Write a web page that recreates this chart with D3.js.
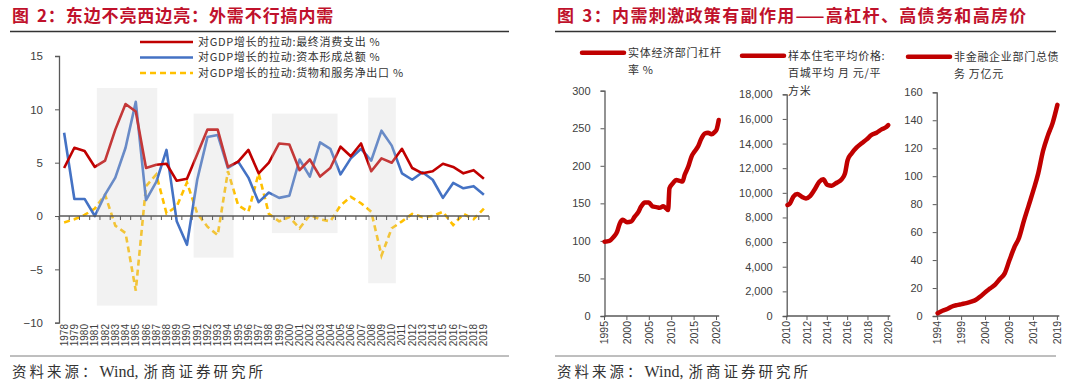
<!DOCTYPE html>
<html>
<head>
<meta charset="utf-8">
<script src="https://cdn.jsdelivr.net/npm/d3@7"></script>
<style>
    body { margin: 0; background: #fff; }
    svg text { font-family: Arial, "Liberation Sans", sans-serif; }
    .cjk { font-family: "Noto Sans CJK SC", sans-serif; }
</style>
</head>
<body>
<svg id="chart" width="1080" height="384"></svg>
<script>
// ---- left chart data: contributions to GDP growth (pp) ----
const years = [1978, 1979, 1980, 1981, 1982, 1983, 1984, 1985, 1986, 1987, 1988, 1989, 1990,
    1991, 1992, 1993, 1994, 1995, 1996, 1997, 1998, 1999, 2000, 2001, 2002, 2003, 2004, 2005,
    2006, 2007, 2008, 2009, 2010, 2011, 2012, 2013, 2014, 2015, 2016, 2017, 2018, 2019];
const consumption = [4.5, 6.4, 6.1, 4.6, 5.2, 8.1, 10.5, 9.8, 4.5, 4.8, 4.9, 3.3, 3.5,
    5.8, 8.1, 8.1, 4.6, 5.1, 6.2, 4.0, 5.0, 6.8, 6.7, 4.3, 5.3, 3.7, 4.5, 6.5,
    5.6, 6.8, 4.2, 5.4, 5.0, 6.3, 4.5, 4.0, 4.2, 4.9, 4.6, 4.0, 4.3, 3.5];
const capital = [7.8, 1.6, 1.6, 0.0, 2.0, 3.6, 6.4, 10.7, 1.5, 3.2, 6.2, -0.5, -2.7,
    3.4, 7.4, 7.6, 4.5, 5.1, 3.6, 1.3, 2.2, 1.7, 1.9, 5.3, 3.7, 6.9, 6.3, 3.9,
    5.4, 6.3, 5.2, 8.0, 6.6, 4.0, 3.4, 4.1, 3.4, 1.7, 3.1, 2.6, 2.8, 2.0];
const netExports = [-0.6, -0.3, 0.1, 0.7, 2.0, -0.9, -1.6, -7.0, 2.8, 3.9, 0.25, 0.9, 3.15,
    0.25, -1.0, -1.8, 4.2, 1.0, 0.4, 4.0, 0.2, -0.5, -0.1, -1.15, 0.1, -0.3, -0.5, 1.0,
    1.8, 1.2, 0.4, -3.7, -1.15, -0.5, 0.2, -0.1, 0.0, 0.4, -0.85, 0.2, -0.3, 0.7];
const leftNames = ['对GDP增长的拉动:最终消费支出 %', '对GDP增长的拉动:资本形成总额 %', '对GDP增长的拉动:货物和服务净出口 %'];
const leftTicks = [-10, -5, 0, 5, 10, 15];

// shaded periods (year span, value span)
const shadeFrom = [1981.2, 1990.65, 1998.3, 2007.7];
const shadeTo = [1987.1, 1994.55, 2004.7, 2010.4];
const shadeHigh = [12, 9.6, 9.6, 11.1];
const shadeLow = [-8.4, -3.9, -1.6, -6.3];

// ---- right charts data ----
const levYears = [1995.0, 1996.1, 1997.0, 1997.8, 1998.4, 1999.1, 2000.0, 2001.0, 2001.7, 2002.5, 2003.2,
    2004.0, 2004.9, 2005.7, 2006.6, 2007.3, 2008.1, 2008.8, 2009.2, 2009.5, 2010.3, 2011.0, 2011.8,
    2012.4, 2012.9, 2013.7, 2014.4, 2015.1, 2015.9, 2016.6, 2017.4, 2018.1, 2018.9, 2019.6, 2020.0, 2020.5];
const leverage = [99, 100, 105, 112, 123, 128, 125, 126, 132, 138, 146,
    151, 151, 146, 145, 144, 146, 143, 141, 170, 177, 181, 180,
    179, 188, 199, 212, 219, 226, 236, 243, 244, 242, 245, 248, 261];
const levTicks = [0, 50, 100, 150, 200, 250, 300];
const levLabels = [1995, 2000, 2005, 2010, 2015, 2020];

const priceYears = [2010.07, 2010.33, 2010.66, 2011.05, 2011.48, 2011.9, 2012.3, 2012.72, 2013.21, 2013.6,
    2014.0, 2014.43, 2014.92, 2015.41, 2015.74, 2016.0, 2016.39, 2016.89, 2017.38, 2017.87, 2018.36,
    2018.85, 2019.34, 2019.77, 2020.0];
const housePrice = [9010, 9150, 9690, 9900, 9690, 9550, 9740, 10230, 10900, 11100,
    10640, 10580, 10820, 11100, 11580, 12660, 13200, 13690, 14020, 14340, 14700,
    14880, 15150, 15320, 15500];
const priceTicks = [0, 2000, 4000, 6000, 8000, 10000, 12000, 14000, 16000, 18000];
const priceLabels = [2010, 2012, 2014, 2016, 2018, 2020];

const debtYears = [1994, 1995, 1996, 1997, 1998, 1999, 2000, 2001, 2002, 2003, 2004, 2005, 2006,
    2007, 2008, 2009, 2010, 2011, 2012, 2013, 2014, 2015, 2016, 2017, 2018, 2019];
const corpDebt = [2.0, 3.8, 5.0, 6.8, 7.8, 8.5, 9.2, 10.2, 11.6, 14.2, 17.2, 19.8, 22.5,
    26.5, 30.5, 40, 49, 56, 68, 79, 90, 102, 118, 129, 138, 151];
const debtTicks = [0, 20, 40, 60, 80, 100, 120, 140, 160];
const debtLabels = [1994, 1999, 2004, 2009, 2014, 2019];

const RED = '#C00000';
const BLUE = '#4472C4';
const GOLD = '#FFC000';
const AXIS = '#595959';
const TEXT = '#404040';

let svg = d3.select('#chart');

// ---------- headers / footers ----------
function drawFrame(x0, x1, title, spacing)
{
    let t = svg.append('text').classed('cjk', true)
        .attr('x', x0 + 2).attr('y', 22)
        .attr('font-size', 17).attr('font-weight', 'bold')
        .attr('fill', '#C0112B')
        .style('letter-spacing', spacing + 'px');
    t.append('tspan').text(title[0]);
    t.append('tspan').attr('dx', 7).text(title[1]);

    svg.append('line')
        .attr('x1', x0).attr('x2', x1).attr('y1', 31.5).attr('y2', 31.5)
        .attr('stroke', '#333').attr('stroke-width', 1.5);
    svg.append('line')
        .attr('x1', x0).attr('x2', x1).attr('y1', 356).attr('y2', 356)
        .attr('stroke', '#7f7f7f').attr('stroke-width', 1);

    let s = svg.append('text')
        .attr('x', x0 + 2).attr('y', 377)
        .attr('font-size', 14.5).attr('fill', '#333')
        .style('font-family', '"Liberation Serif", "Noto Sans CJK SC", serif');
    s.append('tspan').style('letter-spacing', '3px').text('资料来源：');
    s.append('tspan').style('font-size', '16px').text('Wind,');
    s.append('tspan').attr('dx', 5).style('letter-spacing', '3px').text('浙商证券研究所');
}
drawFrame(10, 509, ['图', '2：东边不亮西边亮：外需不行搞内需'], 0.9);
drawFrame(555, 1056, ['图', '3：内需刺激政策有副作用——高杠杆、高债务和高房价'], 1.35);

// ---------- left chart ----------
let xL = d3.scaleLinear().domain([1977.5, 2019.5]).range([59, 489]);
let yL = d3.scaleLinear().domain([-10, 15]).range([322.7, 56]);

let rows = years.map((y, i) => ({year: y, c: consumption[i], k: capital[i], n: netExports[i]}));
let lineOf = key => d3.line().x(d => xL(d.year)).y(d => yL(d[key]));

let left = svg.append('g');
left.append('path').datum(rows).attr('d', lineOf('n'))
    .attr('fill', 'none').attr('stroke', GOLD).attr('stroke-width', 2.6)
    .attr('stroke-dasharray', '6,4');
left.append('path').datum(rows).attr('d', lineOf('k'))
    .attr('fill', 'none').attr('stroke', BLUE).attr('stroke-width', 2.6)
    .attr('stroke-linejoin', 'round');
left.append('path').datum(rows).attr('d', lineOf('c'))
    .attr('fill', 'none').attr('stroke', RED).attr('stroke-width', 2.6)
    .attr('stroke-linejoin', 'round');

// grey periods sit on top of the lines and wash them out a little
shadeFrom.forEach((s, i) => {
    left.append('rect')
        .attr('x', xL(s)).attr('width', xL(shadeTo[i]) - xL(s))
        .attr('y', yL(shadeHigh[i])).attr('height', yL(shadeLow[i]) - yL(shadeHigh[i]))
        .attr('fill', '#cfcfcf').attr('opacity', 0.27);
});

// y axis
let yAxisL = d3.axisLeft(yL).tickValues(leftTicks).tickSize(4).tickPadding(12);
let gy = left.append('g').attr('transform', 'translate(59,0)').call(yAxisL);
gy.select('.domain').attr('stroke', AXIS).attr('stroke-width', 1.3);
gy.selectAll('.tick line').attr('stroke', AXIS);
gy.selectAll('.tick text').attr('font-size', 11.5).attr('fill', TEXT)
    .style('font-family', 'Arial, sans-serif')
    .text(d => d < 0 ? '\u2212' + Math.abs(d) : d);

// zero line with ticks between categories
let bounds = years.map(y => y - 0.5).concat([2019.5]);
left.append('line')
    .attr('x1', xL(1977.5)).attr('x2', xL(2019.5))
    .attr('y1', yL(0)).attr('y2', yL(0))
    .attr('stroke', AXIS).attr('stroke-width', 1.3);
left.selectAll('.zt').data(bounds).enter().append('line')
    .attr('x1', d => xL(d)).attr('x2', d => xL(d))
    .attr('y1', yL(0)).attr('y2', yL(0) + 4)
    .attr('stroke', AXIS).attr('stroke-width', 1);
left.selectAll('.yl').data(years).enter().append('text')
    .attr('transform', d => `translate(${xL(d)},324) rotate(-90)`)
    .attr('dy', '0.35em').attr('text-anchor', 'end')
    .attr('font-size', 10).attr('fill', TEXT)
    .text(d => d);

// legend
let legColors = [RED, BLUE, GOLD];
let legY = [42, 57.5, 73];
leftNames.forEach((name, i) => {
    left.append('line')
        .attr('x1', 140).attr('x2', 193).attr('y1', legY[i]).attr('y2', legY[i])
        .attr('stroke', legColors[i]).attr('stroke-width', 2.6)
        .attr('stroke-dasharray', i == 2 ? '6,4' : null);
    left.append('text').classed('cjk', true)
        .attr('x', 198).attr('y', legY[i]).attr('dy', '0.35em')
        .attr('font-size', 11).attr('fill', '#333')
        .style('letter-spacing', '0.7px')
        .text(name);
});

// ---------- right small charts ----------
function drawMini(cfg)
{
    let x = d3.scaleLinear().domain(cfg.xDomain).range(cfg.xRange);
    let y = d3.scaleLinear().domain([0, cfg.yMax]).range([316, cfg.yTop]);
    let g = svg.append('g');

    let ya = d3.axisLeft(y).tickValues(cfg.yTicks).tickSize(4).tickPadding(10)
        .tickFormat(cfg.fmt || (d => d));
    let gy = g.append('g').attr('transform', `translate(${cfg.xRange[0]},0)`).call(ya);
    gy.select('.domain').attr('stroke', AXIS).attr('stroke-width', 1.3);
    gy.selectAll('.tick line').attr('stroke', AXIS);
    gy.selectAll('.tick text').attr('font-size', 11).attr('fill', TEXT)
        .style('font-family', 'Arial, sans-serif');

    g.append('line')
        .attr('x1', cfg.xRange[0]).attr('x2', cfg.xRange[1])
        .attr('y1', 316).attr('y2', 316)
        .attr('stroke', AXIS).attr('stroke-width', 1.3);
    g.selectAll('.xt').data(cfg.xLabels).enter().append('line')
        .attr('x1', d => x(d)).attr('x2', d => x(d))
        .attr('y1', 316).attr('y2', 320)
        .attr('stroke', AXIS);
    g.selectAll('.xl').data(cfg.xLabels).enter().append('text')
        .attr('transform', d => `translate(${x(d)},321) rotate(-90)`)
        .attr('dy', '0.35em').attr('text-anchor', 'end')
        .attr('font-size', 10.5).attr('fill', TEXT)
        .text(d => d);

    let pts = cfg.xs.map((v, i) => [v, cfg.ys[i]]);
    g.append('path').datum(pts)
        .attr('d', d3.line().x(d => x(d[0])).y(d => y(d[1])).curve(d3.curveMonotoneX))
        .attr('fill', 'none').attr('stroke', RED).attr('stroke-width', 4.5)
        .attr('stroke-linejoin', 'round').attr('stroke-linecap', 'round');

    // legend
    g.append('line')
        .attr('x1', cfg.legX).attr('x2', cfg.legX + 42)
        .attr('y1', cfg.legY).attr('y2', cfg.legY)
        .attr('stroke', RED).attr('stroke-width', 4.5).attr('stroke-linecap', 'round');
    let t = g.append('text').classed('cjk', true)
        .attr('font-size', 11).attr('fill', '#333')
        .style('letter-spacing', '0.7px');
    cfg.legend.forEach((line, i) => {
        t.append('tspan')
            .attr('x', cfg.legX + 46).attr('y', cfg.legY + 4 + i * 17.5)
            .text(line);
    });
}

drawMini({
    xDomain: [1995, 2020.6], xRange: [604.5, 719.2], yMax: 300, yTop: 90.7,
    yTicks: levTicks, xLabels: levLabels, xs: levYears, ys: leverage,
    legX: 582, legY: 52.7, legend: ['实体经济部门杠杆', '率 %']
});
drawMini({
    xDomain: [2010, 2020.2], xRange: [786.7, 890.3], yMax: 18000, yTop: 94.3,
    yTicks: priceTicks, xLabels: priceLabels, xs: priceYears, ys: housePrice,
    fmt: d3.format(','),
    legX: 742, legY: 55.7, legend: ['样本住宅平均价格:', '百城平均 月 元/平', '方米']
});
drawMini({
    xDomain: [1993.8, 2019.4], xRange: [936.7, 1059.3], yMax: 160, yTop: 92.3,
    yTicks: debtTicks, xLabels: debtLabels, xs: debtYears, ys: corpDebt,
    legX: 908, legY: 56.7, legend: ['非金融企业部门总债', '务 万亿元']
});
</script>
</body>
</html>
